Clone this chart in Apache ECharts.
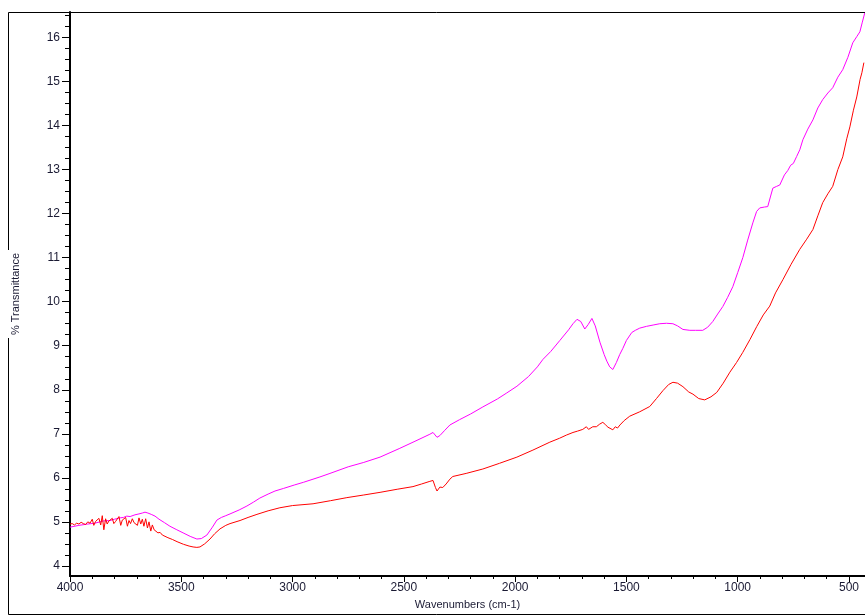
<!DOCTYPE html>
<html>
<head>
<meta charset="utf-8">
<script src="https://cdn.jsdelivr.net/npm/echarts@6/dist/echarts.min.js"></script>
<style>
  html, body { margin: 0; padding: 0; background: #fff; }
  #chart { width: 865px; height: 615px; }
</style>
</head>
<body>
<div id="chart"></div>
<script>
// IR spectra, two samples (magenta / red), % transmittance vs wavenumber
const wnA = [4000, 3960, 3920, 3888, 3850, 3820, 3800, 3775, 3760, 3745, 3730, 3708, 3690, 3675, 3663, 3650, 3635, 3618, 3600, 3575,
  3551, 3520, 3492, 3460, 3430, 3410, 3385, 3360, 3340, 3320, 3300, 3281, 3240, 3205, 3175, 3147, 3110, 3079, 3040, 2990,
  2950, 2877, 2832, 2750, 2680, 2607, 2518, 2450, 2383, 2369, 2351, 2338, 2316, 2293, 2250, 2200, 2145, 2080, 2040, 1992,
  1940, 1900, 1875, 1840, 1799, 1760, 1740, 1722, 1705, 1687, 1672, 1655, 1640, 1619, 1600, 1588, 1575, 1561, 1545, 1530,
  1516, 1500, 1476, 1460, 1440, 1410, 1380, 1350, 1320, 1291, 1270, 1246, 1215, 1190, 1157, 1135, 1112, 1090, 1067, 1045,
  1022, 1000, 977, 955, 932, 915, 901, 880, 865, 852, 842, 825, 811, 790, 775, 762, 750, 735, 721, 707,
  685, 662, 640, 618, 595, 573, 550, 528, 505, 483, 465, 451, 440, 429]
const tA = [4.88, 4.92, 4.95, 4.97, 5.02, 5.03, 5.06, 5.09, 5.1, 5.13, 5.12, 5.16, 5.18, 5.2, 5.22, 5.2, 5.17, 5.13, 5.06, 4.98,
  4.9, 4.82, 4.75, 4.67, 4.61, 4.62, 4.7, 4.88, 5.04, 5.1, 5.14, 5.18, 5.27, 5.36, 5.45, 5.54, 5.63, 5.7, 5.76, 5.84,
  5.9, 6.02, 6.1, 6.25, 6.35, 6.47, 6.67, 6.83, 6.99, 7.03, 6.92, 6.96, 7.08, 7.2, 7.32, 7.45, 7.61, 7.79, 7.92, 8.08,
  8.3, 8.52, 8.69, 8.87, 9.12, 9.36, 9.5, 9.6, 9.55, 9.38, 9.48, 9.62, 9.45, 9.08, 8.8, 8.65, 8.52, 8.46, 8.62, 8.8,
  8.94, 9.12, 9.3, 9.35, 9.4, 9.44, 9.47, 9.5, 9.51, 9.5, 9.45, 9.37, 9.35, 9.35, 9.35, 9.42, 9.55, 9.72, 9.89, 10.1,
  10.34, 10.66, 11.0, 11.4, 11.79, 12.05, 12.13, 12.15, 12.16, 12.4, 12.58, 12.62, 12.65, 12.88, 12.98, 13.1, 13.14, 13.3, 13.45, 13.68,
  13.92, 14.13, 14.4, 14.59, 14.74, 14.86, 15.1, 15.27, 15.55, 15.88, 16.02, 16.13, 16.35, 16.56]

const wnB = [4000, 3990, 3980, 3970, 3960, 3950, 3940, 3930, 3920, 3910, 3900, 3893, 3885, 3878, 3870, 3862, 3855, 3848, 3840, 3833,
  3825, 3818, 3810, 3803, 3795, 3788, 3780, 3772, 3765, 3758, 3750, 3742, 3735, 3728, 3720, 3712, 3705, 3697, 3690, 3682,
  3675, 3668, 3660, 3652, 3645, 3637, 3630, 3622, 3615, 3605, 3595, 3585, 3560, 3540, 3519, 3490, 3465, 3447, 3430, 3416,
  3395, 3371, 3350, 3326, 3300, 3281, 3236, 3200, 3160, 3110, 3057, 3000, 2908, 2830, 2756, 2680, 2607, 2530, 2459, 2420,
  2383, 2369, 2358, 2351, 2345, 2338, 2325, 2310, 2293, 2280, 2220, 2145, 2070, 1992, 1920, 1844, 1800, 1770, 1740, 1720,
  1696, 1680, 1670, 1651, 1635, 1620, 1606, 1595, 1583, 1575, 1561, 1550, 1540, 1529, 1510, 1485, 1440, 1395, 1365, 1336,
  1310, 1291, 1270, 1246, 1220, 1201, 1175, 1148, 1120, 1094, 1065, 1035, 1005, 977, 945, 914, 885, 856, 830, 797,
  760, 721, 690, 662, 640, 618, 595, 573, 550, 528, 510, 496, 480, 465, 450, 442, 433]
const tB = [4.95, 4.96, 4.93, 4.97, 4.95, 4.99, 4.96, 4.94, 5.0, 4.97, 5.06, 4.92, 5.01, 4.97, 5.08, 4.93, 5.14, 4.82, 5.07, 4.95,
  5.02, 4.98, 5.08, 4.96, 5.01, 5.03, 5.12, 4.92, 5.04, 5.0, 5.1, 4.9, 5.03, 4.96, 5.07, 4.98, 5.02, 4.92, 5.09, 4.95,
  5.06, 4.9, 5.07, 4.86, 5.0, 4.79, 4.93, 4.82, 4.86, 4.75, 4.76, 4.7, 4.64, 4.6, 4.55, 4.49, 4.45, 4.43, 4.42, 4.43,
  4.5, 4.61, 4.73, 4.84, 4.92, 4.96, 5.03, 5.1, 5.17, 5.25, 5.32, 5.37, 5.41, 5.48, 5.55, 5.61, 5.67, 5.74, 5.8, 5.86,
  5.92, 5.94, 5.78, 5.7, 5.74, 5.79, 5.78, 5.86, 5.97, 6.03, 6.1, 6.2, 6.33, 6.47, 6.63, 6.81, 6.9, 6.97, 7.03, 7.06,
  7.1, 7.16, 7.1, 7.16, 7.16, 7.22, 7.26, 7.21, 7.15, 7.18, 7.09, 7.16, 7.13, 7.2, 7.3, 7.4, 7.5, 7.62, 7.8, 7.98,
  8.12, 8.17, 8.15, 8.07, 7.95, 7.9, 7.8, 7.77, 7.84, 7.94, 8.15, 8.4, 8.62, 8.85, 9.14, 9.44, 9.7, 9.9, 10.2, 10.5,
  10.85, 11.19, 11.42, 11.64, 11.95, 12.25, 12.45, 12.62, 13.0, 13.29, 13.7, 13.97, 14.35, 14.65, 15.05, 15.2, 15.43]

const xMajor = [4000, 3500, 3000, 2500, 2000, 1500, 1000, 500]
const xMinor = [3900, 3800, 3700, 3600, 3400, 3300, 3200, 3100, 2900, 2800, 2700, 2600, 2400, 2300, 2200, 2100,
  1900, 1800, 1700, 1600, 1400, 1300, 1200, 1100, 900, 800, 700, 600]
const yMajor = [4, 5, 6, 7, 8, 9, 10, 11, 12, 13, 14, 15, 16]
const yMinor = [4.25, 4.5, 4.75, 5.25, 5.5, 5.75, 6.25, 6.5, 6.75, 7.25, 7.5, 7.75, 8.25, 8.5, 8.75, 9.25, 9.5, 9.75,
  10.25, 10.5, 10.75, 11.25, 11.5, 11.75, 12.25, 12.5, 12.75, 13.25, 13.5, 13.75, 14.25, 14.5, 14.75, 15.25, 15.5, 15.75,
  16.25, 16.5]

const X_MIN = 428, X_MAX = 4000
const Y_MIN = 3.77, Y_MAX = 16.58
const FONT = "'Liberation Sans', Arial, sans-serif"
const TXT = '#1a1a33'

const zip = (xs, ys) => xs.map((x, i) => [x, ys[i]])

const chart = echarts.init(document.getElementById('chart'))
chart.setOption({
  animation: false,
  grid: { left: 70, right: 0, top: 12, bottom: 38 },
  xAxis: [
    {
      type: 'value', inverse: true, min: X_MIN, max: X_MAX, position: 'bottom',
      name: 'Wavenumbers (cm-1)', nameLocation: 'middle', nameGap: 23,
      nameTextStyle: { color: TXT, fontSize: 11, fontFamily: FONT },
      axisLine: { show: true, lineStyle: { color: '#000', width: 2 } },
      axisTick: { show: true, length: 6, customValues: xMajor, lineStyle: { color: '#000' } },
      axisLabel: { customValues: xMajor, formatter: v => String(v), color: TXT, fontSize: 12, fontFamily: FONT, margin: 6 },
      splitLine: { show: false }
    },
    {
      type: 'value', inverse: true, min: X_MIN, max: X_MAX, position: 'bottom',
      axisLine: { show: false },
      axisTick: { show: true, length: 3, customValues: xMinor, lineStyle: { color: '#000' } },
      axisLabel: { show: false },
      splitLine: { show: false }
    }
  ],
  yAxis: [
    {
      type: 'value', min: Y_MIN, max: Y_MAX, position: 'left',
      name: '% Transmittance', nameLocation: 'middle', nameGap: 49,
      nameTextStyle: { color: TXT, fontSize: 11, fontFamily: FONT },
      axisLine: { show: true, lineStyle: { color: '#000', width: 2 } },
      axisTick: { show: true, length: 8, customValues: yMajor, lineStyle: { color: '#000' } },
      axisLabel: { customValues: yMajor, formatter: v => String(v), color: TXT, fontSize: 12, fontFamily: FONT, margin: 10 },
      splitLine: { show: false }
    },
    {
      type: 'value', min: Y_MIN, max: Y_MAX, position: 'left',
      axisLine: { show: false },
      axisTick: { show: true, length: 5, customValues: yMinor, lineStyle: { color: '#000' } },
      axisLabel: { show: false },
      splitLine: { show: false }
    }
  ],
  graphic: [
    { type: 'polyline', shape: { points: [[8.5, 250], [8.5, 12.5], [865, 12.5]] }, style: { stroke: '#000', lineWidth: 1, fill: null } },
    { type: 'polyline', shape: { points: [[8.5, 338], [8.5, 614.5], [865, 614.5]] }, style: { stroke: '#000', lineWidth: 1, fill: null } }
  ],
  series: [
    {
      name: 'A', type: 'line', xAxisIndex: 0, yAxisIndex: 0, data: zip(wnA, tA),
      symbol: 'none', lineStyle: { color: '#ff00ff', width: 1 }, z: 3
    },
    {
      name: 'B', type: 'line', xAxisIndex: 0, yAxisIndex: 0, data: zip(wnB, tB),
      symbol: 'none', lineStyle: { color: '#ff0000', width: 1 }, z: 4
    }
  ]
})
</script>
</body>
</html>
